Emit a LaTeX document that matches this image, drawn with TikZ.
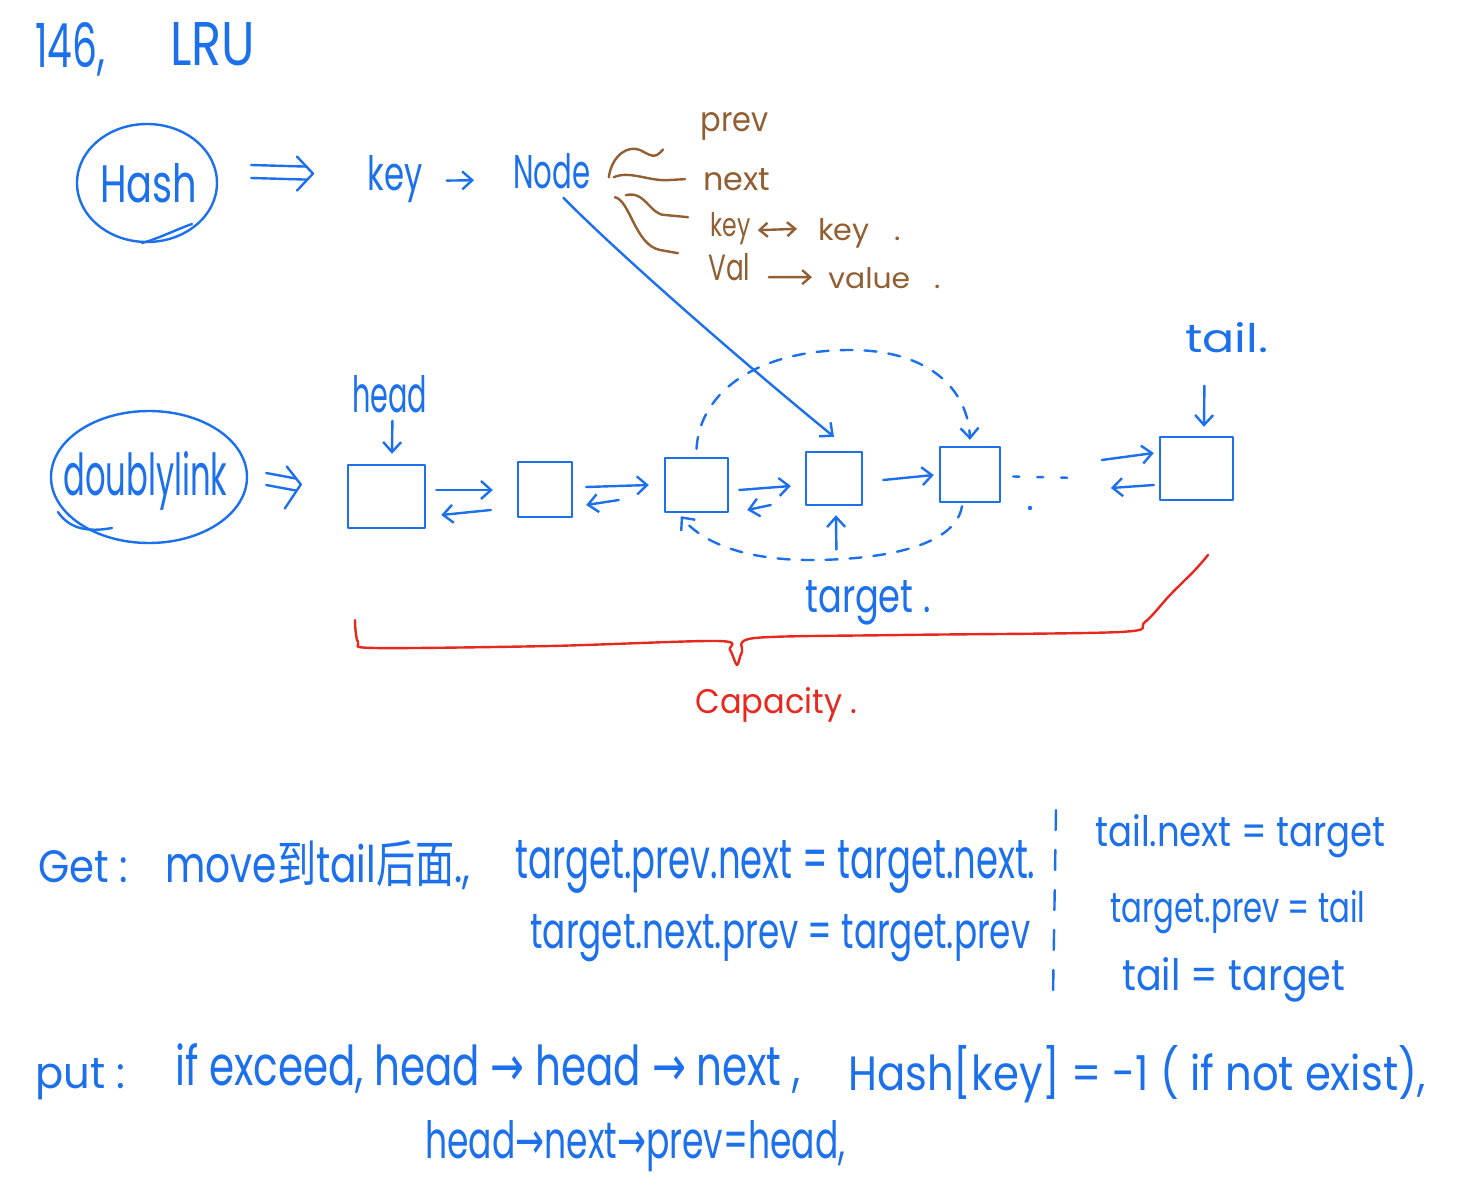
\documentclass[tikz,border=0pt]{standalone}
\usepackage{fontspec}
\setmainfont{Poppins}
\newfontfamily\cjk{Noto Sans CJK SC}
\newfontfamily\sym{DejaVu Sans}
\usetikzlibrary{arrows.meta,calc,shapes.geometric}
\definecolor{inkblue}{RGB}{28,112,235}
\definecolor{inkbrown}{RGB}{145,95,50}
\definecolor{inkred}{RGB}{230,40,30}
\newlength\pxu \setlength\pxu{0.5pt}
\newcommand\hw[3]{\resizebox{#1\pxu}{#2\pxu}{#3}}
\tikzset{
  hand/.style={line width=1.2pt, line cap=round, line join=round, draw=inkblue},
  txt/.style={inner sep=0pt, anchor=base west, text=inkblue},
  brn/.style={inner sep=0pt, anchor=base west, text=inkbrown},
  box/.style={hand, rectangle, inner sep=0pt},
  oval/.style={hand, ellipse, inner sep=0pt},
  arr/.style={hand, -{Straight Barb[length=5pt,width=9pt]}},
  barr/.style={hand, draw=inkbrown, {Straight Barb[length=4pt,width=7pt]}-{Straight Barb[length=4pt,width=7pt]}},
  brarr/.style={hand, draw=inkbrown, -{Straight Barb[length=4pt,width=7pt]}},
  bcurve/.style={hand, draw=inkbrown},
  dash1/.style={hand, dash pattern=on 6pt off 6pt},
}
\begin{document}
\begin{tikzpicture}[x=0.5pt,y=-0.5pt]
\fill[white] (0,0) rectangle (1480,1194);
\useasboundingbox (0,0) rectangle (1480,1194);

% title
\node[txt] (t146) at (35,67) {\hw{70}{45}{146,}};
\node[txt] (tlru) at (170,65) {\hw{85}{43}{LRU}};

% Hash row
\node[oval, minimum width=70pt, minimum height=59pt] (hash) at (147,183) {};
\node[txt] (hashtxt) at (100,202) {\hw{97}{39}{Hash}};
\draw[hand] (142,243) .. controls (160,238) and (175,230) .. (192,224);
\node[txt] (key) at (367,190) {\hw{55}{35}{key}};
\node[txt] (nodetxt) at (513,188) {\hw{77}{35}{Node}};
% double arrow Hash => key
\coordinate (ha) at ($(hash.east)+(33,-11)$);
\coordinate (hb) at ($(key.west)+(-54,-5)$);
\draw[hand] ($(ha)+(0,-7)$) -- ($(hb)+(-6,-7)$);
\draw[hand] ($(ha)+(0,6)$) -- ($(hb)+(-6,6)$);
\draw[hand] ($(hb)+(-16,-17)$) -- (hb) -- ($(hb)+(-16,17)$);
\draw[arr] ($(key.east)+(24,2)$) -- ($(nodetxt.west)+(-39,9.5)$);

% node fields
\node[brn] (prev) at (700,132) {\hw{68}{19}{prev}};
\node[brn] (next) at (703,190) {\hw{67}{22}{next}};
\node[brn] (keyA) at (710,236) {\hw{40}{24}{key}};
\node[brn] (keyB) at (818,240) {\hw{82}{22}{key\ \ \ .}};
\node[brn] (val) at (708,280) {\hw{42}{27}{Val}};
\node[brn] (value) at (828,288) {\hw{112}{21}{value\ \ \ .}};
\draw[barr] ($(keyA.east)+(7,2)$) -- ($(keyB.west)+(-21,-4)$);
\draw[brarr] ($(val.east)+(18,10.5)$) -- ($(value.west)+(-16,-0.5)$);
\draw[bcurve] ($(nodetxt.east)+(18,6.5)$) .. controls (612,155) and (628,145) .. (640,150) .. controls (650,155) and (655,160) .. ($(prev.west)+(-37,22.5)$);
\draw[bcurve] ($(nodetxt.east)+(23,6.5)$) .. controls (630,170) and (650,182) .. (670,180) -- ($(next.west)+(-18,0)$);
\draw[bcurve] ($(nodetxt.east)+(35,24.5)$) .. controls (645,190) and (650,215) .. (665,215) -- ($(keyA.west)+(-22,-11)$);
\draw[bcurve] ($(nodetxt.east)+(24,26.5)$) .. controls (630,200) and (635,245) .. (660,250) -- ($(val.west)+(-30,-13.5)$);

% doubly linked list
\node[oval, minimum width=98pt, minimum height=66pt] (dl) at (149,477) {};
\node[txt] (dltxt) at (63,495) {\hw{164}{44}{doublylink}};
\draw[hand] (58,512) .. controls (70,530) and (90,532) .. (112,528);

\node[box, minimum width=38.5pt, minimum height=31.5pt] (b1) at (386.5,496.5) {};
\node[box, minimum width=27pt, minimum height=27.5pt] (b2) at (545,489.5) {};
\node[box, minimum width=31.5pt, minimum height=27pt] (b3) at (696.5,485) {};
\node[box, minimum width=28pt, minimum height=26.5pt] (b4) at (834,478.5) {};
\node[box, minimum width=30pt, minimum height=27.5pt] (b5) at (970,474.5) {};
\node[box, minimum width=36.5pt, minimum height=31.5pt] (b6) at (1196.5,468.5) {};

% double arrow doublylink => first box
\coordinate (da) at ($(dl.east)+(18,2)$);
\coordinate (db) at ($(b1.west)+(-46,-12)$);
\draw[hand] ($(da)+(0,-6)$) -- ($(db)+(-5,-6)$);
\draw[hand] ($(da)+(0,6)$) -- ($(db)+(-5,6)$);
\draw[hand] ($(db)+(-14,-18)$) -- (db) -- ($(db)+(-16,24)$);

\draw[arr] ($(b1.east)+(10,-6.5)$) -- ($(b2.west)+(-24,0.5)$);
\draw[arr] ($(b2.west)+(-26,20.5)$) -- ($(b1.east)+(15,18.5)$);
\draw[arr] ($(b2.east)+(13,-2.5)$) -- ($(b3.west)+(-15,0)$);
\draw[arr] ($(b3.west)+(-45,15)$) -- ($(b2.east)+(13,15.5)$);
\draw[arr] ($(b3.east)+(10,5)$) -- ($(b4.west)+(-14,7.5)$);
\draw[arr] ($(b4.west)+(-34,26.5)$) -- ($(b3.east)+(18,25)$);
\draw[arr] ($(b4.east)+(20,1.5)$) -- ($(b5.west)+(-5,0.5)$);
\draw[hand, dash pattern=on 3pt off 9pt] ($(b5.east)+(12,2)$) -- ($(b6.west)+(-80,9.5)$);
\fill[inkblue] (1030,508) circle (1.1pt);
\draw[arr] ($(b6.west)+(-57,-8.5)$) -- ($(b6.west)+(-5,-15.5)$);
\draw[arr] ($(b6.west)+(-5,16.5)$) -- ($(b6.west)+(-48,19.5)$);

% labels
\node[txt] (headlbl) at (352,412) {\hw{75}{37}{head}};
\draw[arr] ($(headlbl.south)+(2.5,8)$) -- ($(b1.north)+(5.5,-10)$);
\node[txt] (taillbl) at (1185,352) {\hw{83}{30}{tail.}};
\draw[arr] ($(taillbl.south)+(-22.5,33)$) -- ($(b6.north)+(7.5,-9)$);
\node[txt] (targetlbl) at (805,612) {\hw{125}{32}{target\ .}};
\draw[arr] ($(targetlbl.north)+(-31.5,-30)$) -- ($(b4.south)+(2,9)$);

% Node -> target
\draw[arr] ($(nodetxt.south)+(11.5,9)$) .. controls (620,255) and (740,360) .. ($(b4.north)+(0,-14)$);

% dashed moves
\draw[dash1, -{Straight Barb[length=5pt,width=9pt]}] ($(b3.north)+(0,-8)$) .. controls (700,390) and (760,350) .. (850,350) .. controls (930,350) and (968,390) .. ($(b5.north)+(0,-6)$);
\draw[dash1, -{Straight Barb[length=5pt,width=9pt]}] ($(b5.south)+(-8,3)$) .. controls (955,550) and (870,560) .. (810,560) .. controls (740,560) and (700,540) .. ($(b3.south west)+(17,3)$);

% capacity brace
\draw[hand, draw=inkred] plot[smooth, tension=0.5] coordinates {(355,620) (358,642) (375,648) (550,646) (718,641) (730,650) (737,665) (742,652) (755,638) (900,635) (1120,632) (1145,622) (1170,595) (1195,570) (1208,555)};
\node[txt, text=inkred] (cap) at (695,713) {\hw{162}{26}{Capacity\ .}};

% get
\node[txt] (get) at (38,882) {\hw{90}{32}{Get :}};
\node[txt] (move) at (165,882) {\hw{305}{42}{move{\cjk 到}tail{\cjk 后面}.,}};
\node[txt] (l1) at (515,878) {\hw{520}{38}{target.prev.next = target.next.}};
\node[txt] (l2) at (530,948) {\hw{500}{34}{target.next.prev = target.prev}};
\draw[hand, dash pattern=on 10pt off 10pt] (1056,810) -- (1053,998);
\node[txt] (r1) at (1095,846) {\hw{290}{32}{tail.next = target}};
\node[txt] (r2) at (1110,922) {\hw{255}{32}{target.prev = tail}};
\node[txt] (r3) at (1122,990) {\hw{223}{33}{tail = target}};

% put
\node[txt] (put) at (35,1088) {\hw{90}{30}{put :}};
\node[txt] (p1) at (175,1085) {\hw{625}{42}{if exceed, head {\sym→} head {\sym→} next ,}};
\node[txt] (p2) at (848,1090) {\hw{577}{45}{Hash[key] = -1 ( if not exist),}};
\node[txt] (p3) at (425,1158) {\hw{420}{38}{head{\sym→}next{\sym→}prev=head,}};
\end{tikzpicture}
\end{document}
